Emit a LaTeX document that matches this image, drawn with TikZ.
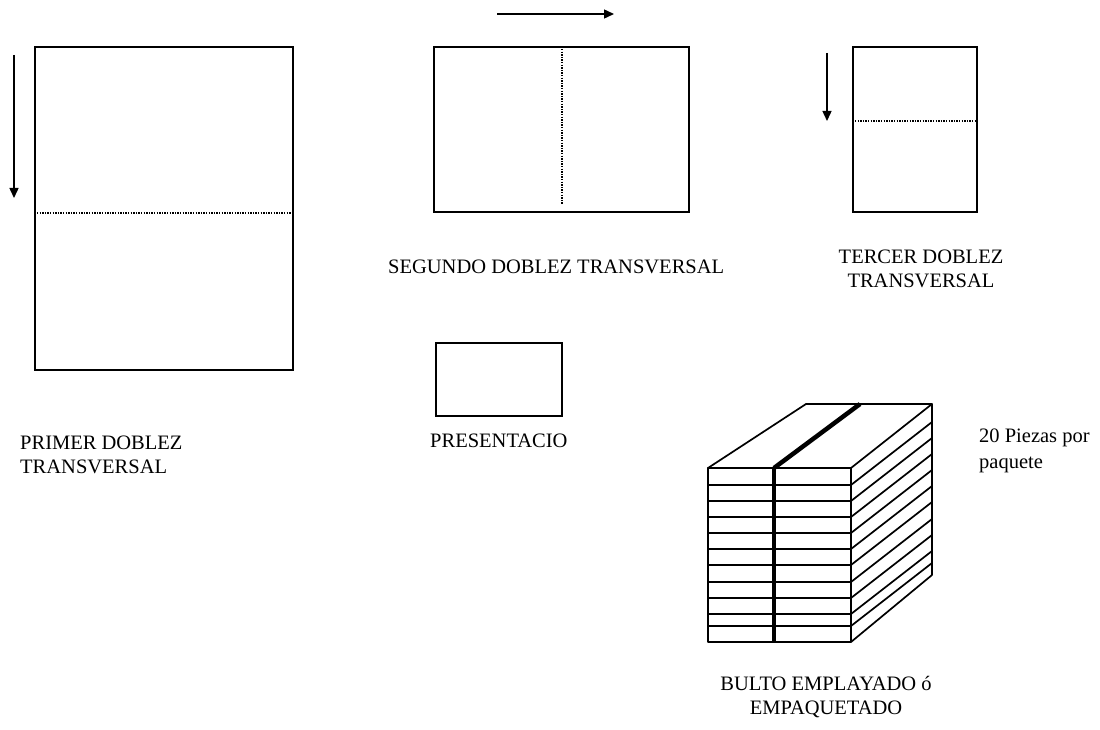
\documentclass[tikz,border=0pt]{standalone}
\usepackage{fontspec}
\setmainfont{Liberation Serif}
\usetikzlibrary{arrows.meta,positioning}

\begin{document}
\begin{tikzpicture}[
    x=1pt, y=-1pt,
    sheet/.style={draw=black, line width=1.8pt},
    fold/.style={line width=1.9pt, dash pattern=on 1.4pt off 1.2pt},
    dirarrow/.style={-{Triangle[length=10pt, width=9pt]}, line width=1.4pt},
    caption/.style={font=\fontsize{20.5}{23.5}\selectfont, inner sep=0pt},
    bundle/.style={draw=black, line width=1.7pt, line join=round},
    strap/.style={draw=black, line width=4.5pt},
]

\useasboundingbox (0,0) rectangle (1100,730);

% First fold: full sheet, folded top to bottom
\draw[sheet] (35,47) rectangle (293,370);
\draw[fold] (37,213) -- (291,213);
\coordinate (a1) at (14,55);
\coordinate (a2) at (14,198);
\draw[dirarrow] (a1) -- (a2);
\node[caption, anchor=west, align=left] (primer) at (20,455) {PRIMER DOBLEZ\\TRANSVERSAL};

% Second fold: left to right
\draw[sheet] (434,47) rectangle (689,212);
\draw[fold] (562,49) -- (562,204);
\coordinate (b1) at (497,14);
\coordinate (b2) at (614,14);
\draw[dirarrow] (b1) -- (b2);
\node[caption, anchor=west] (segundo) at (388,267) {SEGUNDO DOBLEZ TRANSVERSAL};

% Third fold: top to bottom again
\draw[sheet] (853,47) rectangle (977,212);
\draw[fold] (855,121) -- (975,121);
\coordinate (c1) at (827,53);
\coordinate (c2) at (827,121);
\draw[dirarrow] (c1) -- (c2);
\node[caption, align=center] (tercer) at (921,269) {TERCER DOBLEZ\\TRANSVERSAL};

% Folded piece
\draw[sheet] (436,343) rectangle (562,416);
\node[caption, anchor=west] (present) at (430,441) {PRESENTACIO};

% Wrapped bundle
\coordinate (fl) at (708,468);   % front top left
\coordinate (fr) at (851,468);   % front top right
\coordinate (br) at (932,404);   % back top right
\coordinate (bl) at (806,404);   % back top left
\draw[bundle] (fl) -- (fr) -- (br) -- (bl) -- cycle;
\draw[bundle] (fl) rectangle (851,642);
\draw[bundle] (fr) -- (851,642) -- (932,575) -- (br);
\foreach \y in {485,501,517,533,549,565,582,598,614,626} {
    \draw[bundle] (708,\y) -- (851,\y) -- ++(81,-63);
}
\draw[strap] (774,468) -- (774,642);
\draw[strap] (774,468) -- (860,404);
\node[caption, anchor=west, align=left, font=\fontsize{20.5}{26}\selectfont] (piezas) at (979,451) {20 Piezas por\\paquete};
\node[caption, align=center] (bulto) at (826,697) {BULTO EMPLAYADO ó\\EMPAQUETADO};

\end{tikzpicture}
\end{document}
